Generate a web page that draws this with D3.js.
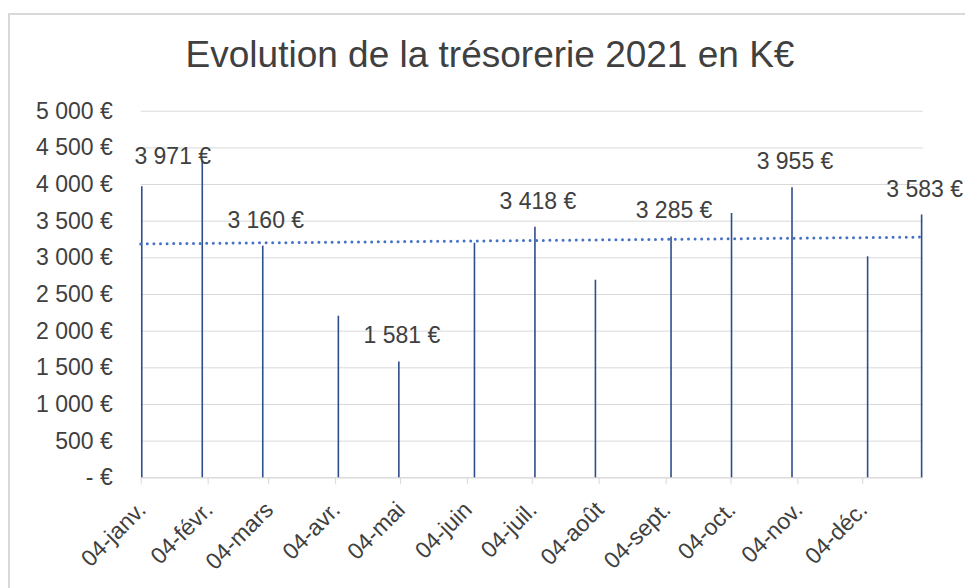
<!DOCTYPE html>
<html>
<head>
<meta charset="utf-8">
<script src="https://cdn.jsdelivr.net/npm/d3@7"></script>
<style>
  body { margin: 0; background: #fff; }
  text { font-family: "Liberation Sans", Arial, sans-serif; fill: #404040; }
</style>
</head>
<body>
<svg id="chart" width="965" height="588"></svg>
<script>
// tresorerie 2021, releves (en K€)
var dates = ["2021-01-04", "2021-02-01", "2021-03-01", "2021-04-05", "2021-05-03", "2021-06-07", "2021-07-05",
  "2021-08-02", "2021-09-06", "2021-10-04", "2021-11-01", "2021-12-06", "2021-12-31"];
var values = [3971, 4318, 3160, 2204, 1581, 3200, 3418, 2695, 3285, 3605, 3955, 3014, 3583];
var showLabel = [true, false, true, false, true, false, true, false, true, false, true, false, true];
var monthLabels = ["janv.", "févr.", "mars", "avr.", "mai", "juin", "juil.", "août", "sept.", "oct.", "nov.", "déc."];
var yTicks = [0, 500, 1000, 1500, 2000, 2500, 3000, 3500, 4000, 4500, 5000];
var title = "Evolution de la trésorerie 2021 en K€";

var svg = d3.select("#chart");
var plotLeft = 140.7, plotRight = 922.7, plotTop = 110.7, plotBottom = 477.3;

var parse = d3.timeParse("%Y-%m-%d");
var data = dates.map(function (d, i) {
  return { date: parse(d), value: values[i], label: showLabel[i] };
});

var x = d3.scaleTime()
  .domain([parse("2021-01-04"), d3.timeDay.offset(parse("2021-12-31"), 1)])
  .range([plotLeft, plotRight]);
var y = d3.scaleLinear().domain([0, 5000]).range([plotBottom, plotTop]);

var loc = d3.formatLocale({ decimal: ",", thousands: " ", grouping: [3], currency: ["", " €"] });
var fmt = loc.format(",.0f");
function euro(v) { return v === 0 ? "- €" : fmt(v) + " €"; }

// cadre du graphique
svg.append("rect")
  .attr("x", 9).attr("y", 14)
  .attr("width", 980).attr("height", 600)
  .attr("fill", "#fff").attr("stroke", "#d9d9d9").attr("stroke-width", 2);

svg.append("text")
  .attr("x", 490).attr("y", 67)
  .attr("text-anchor", "middle")
  .style("font-size", "37px")
  .text(title);

// quadrillage + axe Y
var yAxis = svg.append("g")
  .attr("transform", "translate(" + plotLeft + ",0)")
  .call(d3.axisLeft(y).tickValues(yTicks).tickSize(-(plotRight - plotLeft)).tickPadding(28).tickFormat(euro));
yAxis.select(".domain").remove();
yAxis.selectAll(".tick line").attr("stroke", "#d9d9d9");
yAxis.selectAll(".tick text").style("font-size", "23px").attr("dy", "0.32em");

// axe X (dates)
var tickDates = monthLabels.map(function (m, i) { return new Date(2021, i, 4); });
var xAxis = svg.append("g")
  .attr("transform", "translate(0," + plotBottom + ")")
  .call(d3.axisBottom(x).tickValues(tickDates).tickSize(7).tickSizeOuter(0)
    .tickFormat(function (d, i) { return "04-" + monthLabels[i]; }));
xAxis.select(".domain").attr("stroke", "#d9d9d9");
xAxis.selectAll(".tick line").attr("stroke", "#d9d9d9");
xAxis.selectAll(".tick text")
  .style("font-size", "23px")
  .attr("text-anchor", "end")
  .attr("dy", 0).attr("y", 0)
  .attr("transform", "translate(6,34) rotate(-45)");

// barres fines (1 jour)
var halfDay = function (d) { return x(d3.timeHour.offset(d.date, 12)); };
svg.append("g").attr("class", "bars")
  .selectAll("line").data(data).enter().append("line")
  .attr("x1", halfDay).attr("x2", halfDay)
  .attr("y1", y(0)).attr("y2", function (d) { return y(d.value); })
  .attr("stroke", "#2e4d8c").attr("stroke-width", 1.6);

// courbe de tendance lineaire (moindres carres)
var xs = data.map(function (d) { return +d.date; });
var mx = d3.mean(xs), my = d3.mean(values);
var num = d3.sum(xs, function (v, i) { return (v - mx) * (values[i] - my); });
var den = d3.sum(xs, function (v) { return (v - mx) * (v - mx); });
var slope = num / den;
var trendX = x.domain();
svg.append("line")
  .attr("x1", x(trendX[0])).attr("x2", x(trendX[1]))
  .attr("y1", y(my + slope * (+trendX[0] - mx)))
  .attr("y2", y(my + slope * (+trendX[1] - mx)))
  .attr("stroke", "#4472c4").attr("stroke-width", 3)
  .attr("stroke-linecap", "round").attr("stroke-dasharray", "0 6.6");

// etiquettes de donnees
svg.append("g").attr("class", "labels")
  .selectAll("text").data(data.filter(function (d) { return d.label; })).enter().append("text")
  .attr("x", function (d, i) { return halfDay(d) + (i === 0 ? 31 : 3); })
  .attr("y", function (d, i) { return y(d.value) - (i === 0 ? 22 : 18); })
  .attr("text-anchor", "middle")
  .style("font-size", "23px")
  .text(function (d) { return euro(d.value); });
</script>
</body>
</html>
